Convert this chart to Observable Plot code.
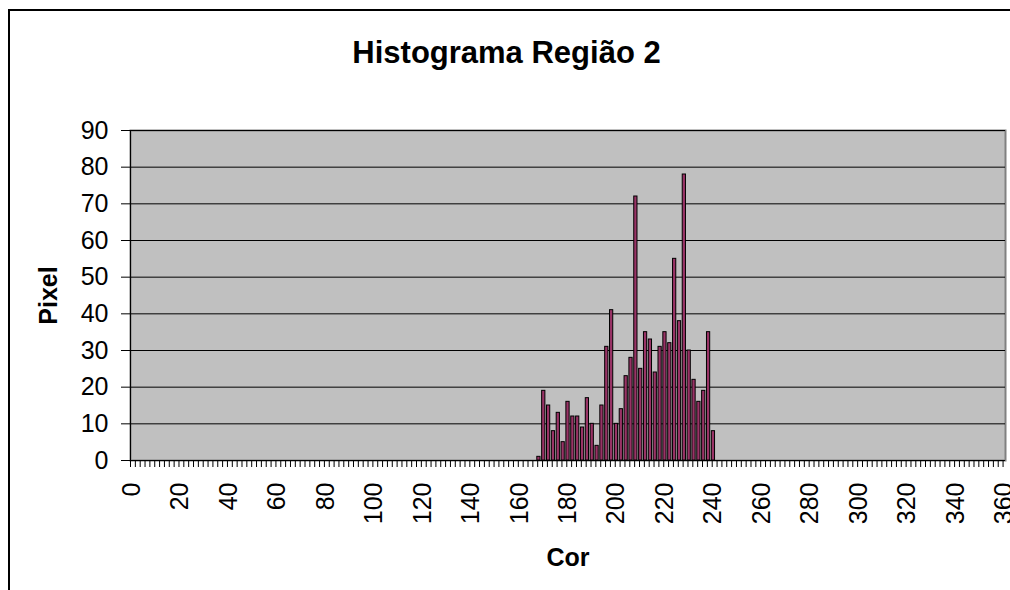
<!DOCTYPE html>
<html><head><meta charset="utf-8">
<script src="https://cdn.jsdelivr.net/npm/d3@7"></script>
<script src="https://cdn.jsdelivr.net/npm/@observablehq/plot@0.6"></script>
<style>
html,body{margin:0;padding:0;background:#fff;overflow:hidden;width:1010px;height:590px;}
#wrap{position:relative;width:1010px;height:590px;overflow:hidden;}
#bl{position:absolute;left:8px;top:9px;width:2px;height:600px;background:#000;}
#bt{position:absolute;left:8px;top:9px;width:1010px;height:2px;background:#000;}
#chart{position:absolute;left:0;top:0;width:1010px;height:590px;}
#chart svg{display:block;}
</style></head><body>
<div id="wrap"><div id="bl"></div><div id="bt"></div><div id="chart"></div></div>
<script>
const title = "Histograma Região 2";
const xTitle = "Cor";
const yTitle = "Pixel";
const categories = [168,170,172,174,176,178,180,182,184,186,188,190,192,194,196,198,200,202,204,206,208,210,212,214,216,218,220,222,224,226,228,230,232,234,236,238,240];
const pixels = [1,19,15,8,13,5,16,12,12,9,17,10,4,15,31,41,10,14,23,28,72,25,35,33,24,31,35,32,55,38,78,30,22,16,19,35,8];
const xTickLabels = [0,20,40,60,80,100,120,140,160,180,200,220,240,260,280,300,320,340,360];
const yTicks = [0,10,20,30,40,50,60,70,80,90];

const data = categories.map((c, i) => ({cor: c, pixel: pixels[i]}));
const minorTicks = d3.range(0, 362, 2);
const font = "'Liberation Sans', Arial, sans-serif";

const plot = Plot.plot({
  width: 1010, height: 590,
  marginLeft: 130, marginRight: 5, marginTop: 130, marginBottom: 130,
  style: {fontFamily: font, fontSize: "25px", color: "#000", background: "transparent"},
  x: {type: "linear", domain: [0, 361]},
  y: {domain: [0, 90]},
  marks: [
    Plot.frame({fill: "#c0c0c0", stroke: "#808080", strokeWidth: 2}),
    Plot.gridY(yTicks.filter(v => v > 0), {stroke: "#000", strokeOpacity: 1, strokeWidth: 1}),
    Plot.rectY(data, {x1: "cor", x2: d => d.cor + 1, y1: 0, y2: "pixel", fill: "#993366", stroke: "#000", strokeWidth: 1, insetLeft: -0.4, insetRight: -0.4}),
    Plot.ruleY([0], {stroke: "#000", strokeWidth: 1}),
    Plot.ruleX([0], {stroke: "#000", strokeWidth: 1}),
    Plot.axisY(yTicks, {tickSize: 9, tickPadding: 13, fontSize: 25, label: null, stroke: "#000"}),
    Plot.axisX(minorTicks, {tickSize: 7, tickFormat: () => "", label: null, stroke: "#000"}),
    Plot.axisX(xTickLabels.map(v => v + 0.5), {tickSize: 0, tickPadding: 22, tickRotate: -90, fontSize: 25, tickFormat: d => String(d - 0.5), label: null}),
    Plot.text([title], {frameAnchor: "top-left", dx: 376, dy: -77, lineAnchor: "middle", textAnchor: "middle", fontSize: 31, fontWeight: "bold"}),
    Plot.text([yTitle], {frameAnchor: "left", dx: -82, rotate: -90, lineAnchor: "middle", textAnchor: "middle", fontSize: 25, fontWeight: "bold"}),
    Plot.text([xTitle], {frameAnchor: "bottom", dy: 97, lineAnchor: "middle", textAnchor: "middle", fontSize: 25, fontWeight: "bold"})
  ]
});
plot.style.maxWidth = "none";
document.getElementById("chart").appendChild(plot);
</script>
</body></html>
